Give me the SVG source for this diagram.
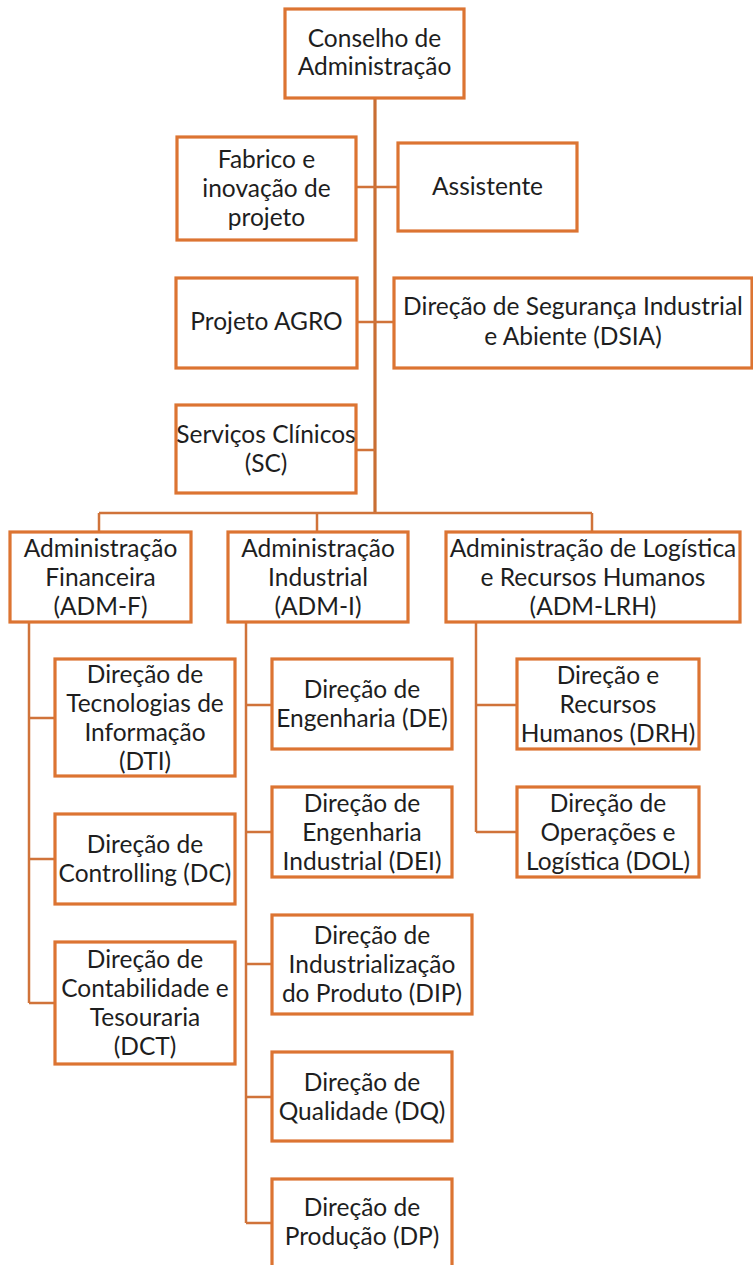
<svg xmlns="http://www.w3.org/2000/svg" width="753" height="1265" viewBox="0 0 753 1265">
<style>
.box{fill:#ffffff;stroke:#DC7432;stroke-width:3.2}
.ln{fill:none;stroke:#D0733A;stroke-width:2.5}
.tr{fill:none;stroke:#C96E33;stroke-width:3.2}
text{font-family:Lato,"Liberation Sans",sans-serif;font-size:24.5px;fill:#1E1E1E;text-anchor:middle}
</style>
<rect width="753" height="1265" fill="#ffffff"/>
<g id="connectors">
<path class="tr" d="M375 98V513"/>
<path class="ln" d="M356 187H398M357 322H394M356 450H375"/>
<path class="ln" d="M99 513H592M99 513V532M317 513V532M592 513V532"/>
<path class="ln" d="M29 622V1003M29 718H55M29 859H55M29 1003H55"/>
<path class="ln" d="M246 622V1223M246 705H272M246 832H272M246 964H272M246 1097H272M246 1223H272"/>
<path class="ln" d="M476 622V832M476 705H517M476 832H517"/>
</g>
<g id="conselho"><rect class="box" x="285" y="9" width="179" height="89"/><text x="374.5" y="47">Conselho de</text><text x="374.5" y="75">Administração</text></g>
<g id="fabrico"><rect class="box" x="177" y="137" width="179" height="103"/><text x="266.5" y="168">Fabrico e</text><text x="266.5" y="197">inovação de</text><text x="266.5" y="226">projeto</text></g>
<g id="assistente"><rect class="box" x="398" y="143" width="179" height="88"/><text x="487.5" y="195">Assistente</text></g>
<g id="agro"><rect class="box" x="176" y="278" width="181" height="90"/><text x="266.5" y="330">Projeto AGRO</text></g>
<g id="dsia"><rect class="box" x="394" y="278" width="358" height="90"/><text x="573" y="315">Direção de Segurança Industrial</text><text x="573" y="345">e Abiente (DSIA)</text></g>
<g id="sc"><rect class="box" x="176" y="405" width="180" height="88"/><text x="266" y="443">Serviços Clínicos</text><text x="266" y="472">(SC)</text></g>
<g id="adm-f"><rect class="box" x="10" y="532" width="181" height="90"/><text x="100.5" y="556.5">Administração</text><text x="100.5" y="585.5">Financeira</text><text x="100.5" y="614.5">(ADM-F)</text></g>
<g id="adm-i"><rect class="box" x="228" y="532" width="180" height="90"/><text x="318" y="556.5">Administração</text><text x="318" y="585.5">Industrial</text><text x="318" y="614.5">(ADM-I)</text></g>
<g id="adm-lrh"><rect class="box" x="446" y="532" width="294" height="90"/><text x="593" y="556.5">Administração de Logística</text><text x="593" y="585.5">e Recursos Humanos</text><text x="593" y="614.5">(ADM-LRH)</text></g>
<g id="dti"><rect class="box" x="55" y="659" width="180" height="117"/><text x="145" y="683">Direção de</text><text x="145" y="711.5">Tecnologias de</text><text x="145" y="740.5">Informação</text><text x="145" y="769.5">(DTI)</text></g>
<g id="dc"><rect class="box" x="55" y="814" width="180" height="90"/><text x="145" y="853">Direção de</text><text x="145" y="882">Controlling (DC)</text></g>
<g id="dct"><rect class="box" x="55" y="942" width="180" height="122"/><text x="145" y="968">Direção de</text><text x="145" y="997">Contabilidade e</text><text x="145" y="1026">Tesouraria</text><text x="145" y="1055">(DCT)</text></g>
<g id="de"><rect class="box" x="272" y="659" width="180" height="90"/><text x="362" y="698">Direção de</text><text x="362" y="727">Engenharia (DE)</text></g>
<g id="dei"><rect class="box" x="272" y="787" width="180" height="90"/><text x="362" y="811.5">Direção de</text><text x="362" y="840.5">Engenharia</text><text x="362" y="869.5">Industrial (DEI)</text></g>
<g id="dip"><rect class="box" x="272" y="915" width="200" height="99"/><text x="372" y="944">Direção de</text><text x="372" y="973">Industrialização</text><text x="372" y="1002">do Produto (DIP)</text></g>
<g id="dq"><rect class="box" x="272" y="1052" width="180" height="89"/><text x="362" y="1090.5">Direção de</text><text x="362" y="1119.5">Qualidade (DQ)</text></g>
<g id="dp"><rect class="box" x="272" y="1179" width="180" height="90"/><text x="362" y="1216">Direção de</text><text x="362" y="1245">Produção (DP)</text></g>
<g id="drh"><rect class="box" x="517" y="659" width="182" height="90"/><text x="608" y="683.5">Direção e</text><text x="608" y="712.5">Recursos</text><text x="608" y="741.5">Humanos (DRH)</text></g>
<g id="dol"><rect class="box" x="517" y="787" width="182" height="90"/><text x="608" y="811.5">Direção de</text><text x="608" y="840.5">Operações e</text><text x="608" y="869.5">Logística (DOL)</text></g>
</svg>
